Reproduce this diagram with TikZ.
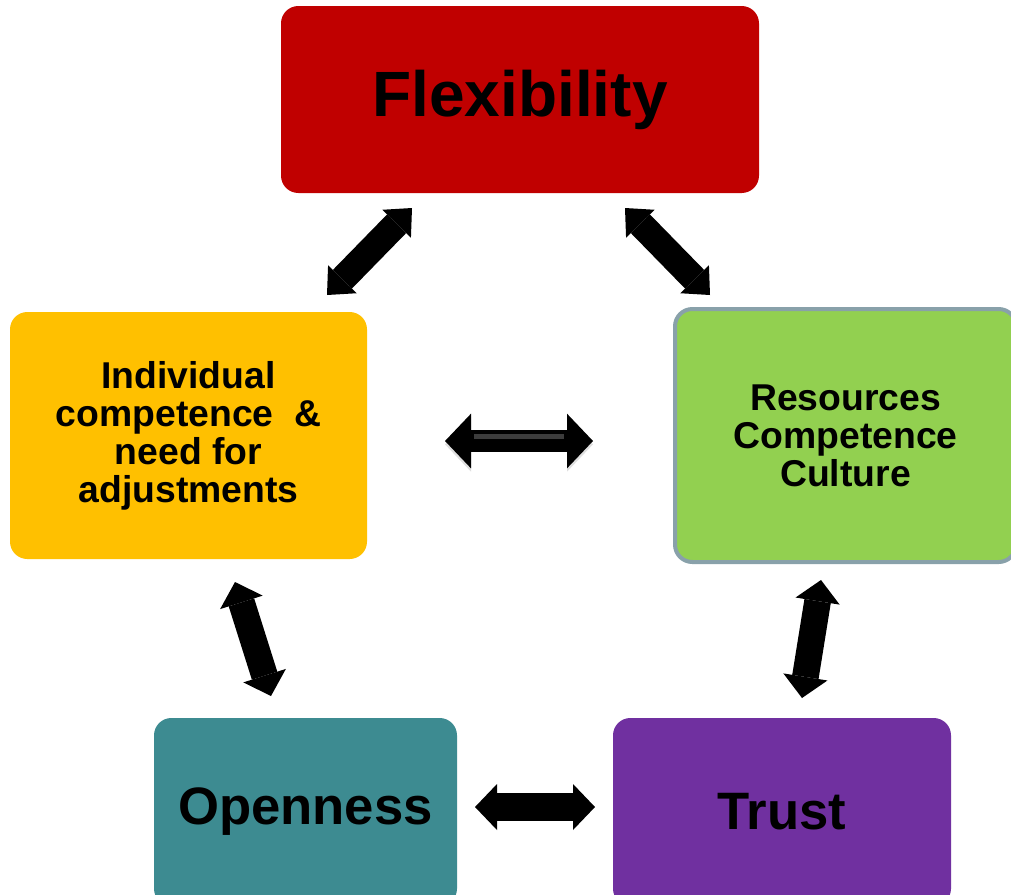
\documentclass[tikz,border=0pt]{standalone}
\usepackage{fontspec}
\setmainfont{Liberation Sans}
\usetikzlibrary{arrows.meta}

\definecolor{flexred}{RGB}{192,0,0}
\definecolor{indivyellow}{RGB}{255,192,0}
\definecolor{resgreen}{RGB}{146,208,80}
\definecolor{resborder}{RGB}{137,161,170}
\definecolor{openteal}{RGB}{61,139,145}
\definecolor{trustpurple}{RGB}{112,48,160}

\tikzset{
  box/.style={rectangle, rounded corners=13pt, inner sep=0pt, align=center, text=black},
  bigtext/.style={font=\fontsize{48}{52}\selectfont\bfseries},
  midtext/.style={font=\fontsize{28}{28.5}\selectfont\bfseries},
  lowtext/.style={font=\fontsize{39.5}{42}\selectfont\bfseries},
  blockarrow/.style n args={3}{draw=black, line width=#1,
    {Triangle[length=#3,width=#2,line width=0pt]}-{Triangle[length=#3,width=#2,line width=0pt]}},
  glossy/.style={
    preaction={draw=black!25, opacity=0.5, transform canvas={yshift=-2.5pt}},
    postaction={draw=black!70, opacity=0.8, arrows=-, line width=4pt, shorten <=22pt, shorten >=22pt, transform canvas={yshift=3.5pt}}}
}

\begin{document}
\begin{tikzpicture}[x=0.75pt,y=0.75pt,yscale=-1,xscale=1]
    \useasboundingbox (0,0) rectangle (1011,894);

    %Rounded Rect: Flexibility
    \draw (520,99.5) node [box, fill=flexred, minimum width=358.5pt, minimum height=140.25pt, bigtext] (flex) {Flexibility};
    %Rounded Rect: Individual competence
    \draw (188.5,435.5) node [box, fill=indivyellow, minimum width=267.75pt, minimum height=185.25pt, midtext] (indiv) {Individual\\competence\ \ \&\\need for\\adjustments};
    %Rounded Rect: Resources
    \draw (845.5,435.5) node [box, fill=resgreen, draw=resborder, line width=3pt, minimum width=255.75pt, minimum height=189.75pt, midtext] (res) {Resources\\Competence\\Culture};
    %Rounded Rect: Openness
    \draw (305.5,812) node [box, fill=openteal, minimum width=227.25pt, minimum height=141pt, lowtext] (open) {Openness};
    %Rounded Rect: Trust
    \draw (782,812) node [box, fill=trustpurple, minimum width=253.5pt, minimum height=141pt, lowtext] (trust) {Trust};

    % arrow ends
    \coordinate (flexL) at (412,208);
    \coordinate (indivT) at (327,295);
    \coordinate (flexR) at (625,208);
    \coordinate (resT) at (710,295);
    \coordinate (indivR) at (445,441);
    \coordinate (resL) at (593,441);
    \coordinate (indivB) at (235,582);
    \coordinate (openT) at (271,696);
    \coordinate (resB) at (821,580);
    \coordinate (trustT) at (802,698);
    \coordinate (openR) at (475,807);
    \coordinate (trustL) at (595,807);

    %Double Arrows
    \draw [blockarrow={20pt}{30pt}{16.5pt}] (indivT) -- (flexL);
    \draw [blockarrow={20pt}{30pt}{16.5pt}] (flexR) -- (resT);
    \draw [blockarrow={17pt}{41pt}{19.5pt}, glossy] (indivR) -- (resL);
    \draw [blockarrow={20pt}{33.5pt}{16pt}] (indivB) -- (openT);
    \draw [blockarrow={20pt}{33.5pt}{16pt}] (resB) -- (trustT);
    \draw [blockarrow={21pt}{34.5pt}{16.5pt}] (openR) -- (trustL);

\end{tikzpicture}
\end{document}
